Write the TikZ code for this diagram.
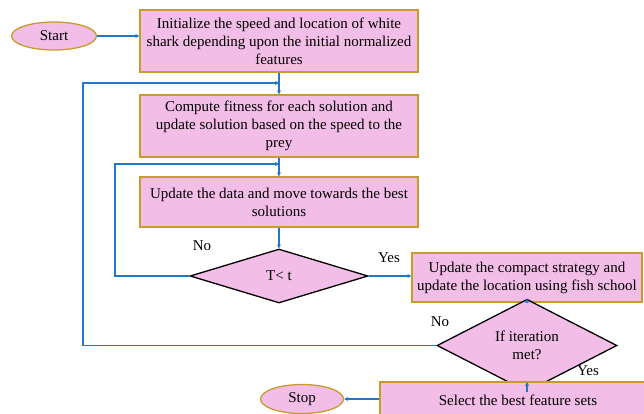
\documentclass[tikz,border=0pt]{standalone}
\usepackage{fontspec}
\setmainfont{Liberation Serif}
\newfontfamily\tnr{Liberation Serif}
\usetikzlibrary{shapes.geometric,arrows.meta}
\definecolor{pinkfill}{HTML}{F2BDE6}
\definecolor{goldline}{HTML}{C89B2A}
\definecolor{arrowblue}{HTML}{1F78C8}
\tikzset{
  txt/.style={font=\tnr\fontsize{15}{18}\selectfont},
  procbox/.style={txt, draw=goldline, line width=1.3pt, fill=pinkfill, align=center, inner sep=1pt},
  termbox/.style={txt, ellipse, draw=goldline, line width=1.3pt, fill=pinkfill, inner sep=0pt},
  decbox/.style={txt, diamond, draw=black, line width=1.3pt, fill=pinkfill, inner sep=0pt, align=center},
  flow/.style={draw=arrowblue, line width=1.4pt, -{Stealth[length=4pt,width=4pt]}},
  lbl/.style={txt}
}
\begin{document}
\begin{tikzpicture}[x=1pt,y=-1pt]
\useasboundingbox (0,0) rectangle (644,413);
\clip (0,0) rectangle (644,413);
\node[termbox, minimum width=85, minimum height=28] (start) at (54,36) {Start};
\node[procbox, minimum width=278, minimum height=62] (b1) at (279,41) {Initialize the speed and location of white\\shark depending upon the initial normalized\\features};
\node[procbox, minimum width=278, minimum height=62] (b2) at (279,126) {Compute fitness for each solution and\\update solution based on the speed to the\\prey};
\node[procbox, minimum width=278, minimum height=50] (b3) at (279,202) {Update the data and move towards the best\\solutions};
\node[decbox, minimum width=178, minimum height=54] (d1) at (279,276) {T< t};
\node[procbox, minimum width=230, minimum height=49] (b4) at (527,277.5) {Update the compact strategy and\\update the location using fish school};
\node[decbox, minimum width=180, minimum height=47] (d2) at (527,345.5) {If iteration\\met?};
\node[procbox, minimum width=276, minimum height=36] (b5) at (518,400) {Select the best feature sets};
\node[termbox, minimum width=83, minimum height=29] (stop) at (302,399) {Stop};
\coordinate (j1) at (279,83);
\coordinate (j2) at (279,164);
\node[lbl] (no1) at (202,246) {No};
\node[lbl] (yes1) at (389,258) {Yes};
\node[lbl] (no2) at (440,322) {No};
\node[lbl] (yes2) at (588,371) {Yes};
\draw[flow] (start.east) -- (start.east -| b1.west);
\draw[flow] (b1.south) -- (b2.north);
\draw[flow] (b2.south) -- (b3.north);
\draw[flow] (b3.south) -- (d1.north);
\draw[flow] (d1.west) -- (115,276) -- (115,164) -- (j2);
\draw[flow] (d1.east) -- (d1.east -| b4.west);
\draw[flow] (b4.south) -- (d2.north);
\draw[flow] (d2.west) -- (83,345.5) -- (83,83) -- (j1);
\draw[flow] (d2.south) -- (527,382);
\draw[flow] (stop.east -| b5.west) -- (stop.east);
\end{tikzpicture}
\end{document}
